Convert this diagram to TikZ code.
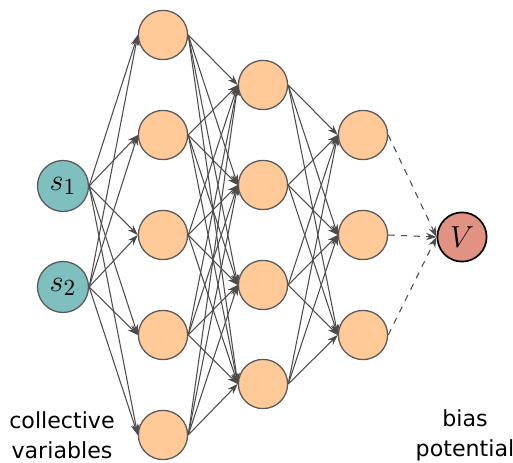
\documentclass[tikz,border=0pt]{standalone}
\usepackage{fontspec}
\setmainfont{DejaVu Sans}
\usetikzlibrary{arrows.meta}
\definecolor{cvteal}{RGB}{127,191,191}
\definecolor{hidorange}{RGB}{255,201,152}
\definecolor{biasred}{RGB}{226,146,130}

\begin{document}
\begin{tikzpicture}[x=0.01667cm,y=-0.01667cm,
  unit/.style={circle,draw=black!65,line width=0.6pt,minimum size=0.82cm,inner sep=0pt,
    font=\fontsize{15}{18}\selectfont},
  cvunit/.style={unit,fill=cvteal,minimum size=0.85cm},
  hidunit/.style={unit,fill=hidorange},
  biasunit/.style={unit,draw=black,line width=0.8pt,fill=biasred},
  link/.style={draw=black!70,line width=0.5pt,-{Stealth[length=5pt,width=3.5pt]}},
  caption/.style={align=center,font=\fontsize{10.5}{14.2}\selectfont}]
  \useasboundingbox (0,0) rectangle (513,463);
  % input layer
  \node[cvunit] (s1) at (63,186) {$s_1$};
  \node[cvunit] (s2) at (63,287) {$s_2$};
  % hidden layers
  \foreach \y [count=\i] in {35,135,235,335,435}
    \node[hidunit] (a\i) at (163,\y) {};
  \foreach \y [count=\i] in {85,185,285,384}
    \node[hidunit] (b\i) at (263,\y) {};
  \foreach \y [count=\i] in {135,235,335}
    \node[hidunit] (c\i) at (363,\y) {};
  % output
  \node[biasunit] (V) at (462,237) {$V$};
  % connections
  \foreach \i in {1,2}
    \foreach \j in {1,...,5}
      \draw[link] (s\i.east) -- (a\j.west);
  \foreach \i in {1,...,5}
    \foreach \j in {1,...,4}
      \draw[link] (a\i.east) -- (b\j.west);
  \foreach \i in {1,...,4}
    \foreach \j in {1,2,3}
      \draw[link] (b\i.east) -- (c\j.west);
  \foreach \j in {1,2,3}
    \draw[link,dashed] (c\j.east) -- (V.west);
  % labels
  \node[caption] (cvlabel) at (62,435) {collective\\variables};
  \node[caption] (biaslabel) at (465,435) {bias\\potential};
\end{tikzpicture}
\end{document}
